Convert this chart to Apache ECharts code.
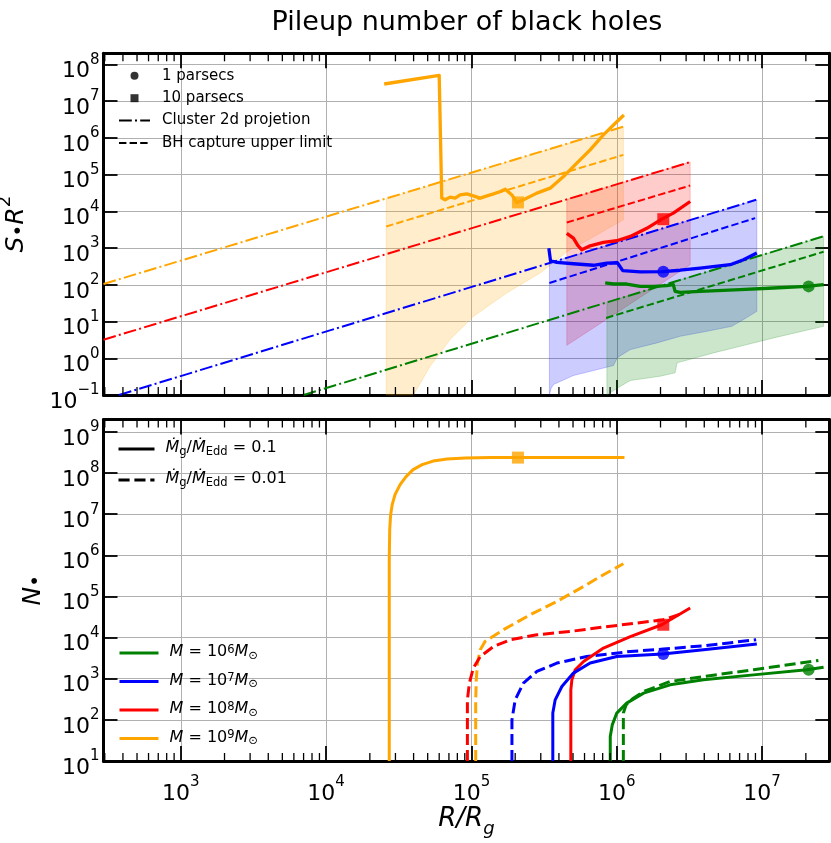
<!DOCTYPE html>
<html><head><meta charset="utf-8">
<script src="https://cdn.jsdelivr.net/npm/echarts@6/dist/echarts.min.js"></script>
<style>html,body{margin:0;padding:0;background:#fff}#c{width:831px;height:843px}</style>
</head><body><div id="c"></div>
<script>
// ---------- axis limits ----------
const X_MIN = 294, X_MAX = 2.9e7;
const TOP_Y_MIN = 0.1, TOP_Y_MAX = 2e8;
const BOT_Y_MIN = 10, BOT_Y_MAX = 2e9;
// minor x tick positions (log axis, 2..9 x 10^n)
const xMinorTicks = [300, 400, 500, 600, 700, 800, 900,
  2e3, 3e3, 4e3, 5e3, 6e3, 7e3, 8e3, 9e3,
  2e4, 3e4, 4e4, 5e4, 6e4, 7e4, 8e4, 9e4,
  2e5, 3e5, 4e5, 5e5, 6e5, 7e5, 8e5, 9e5,
  2e6, 3e6, 4e6, 5e6, 6e6, 7e6, 8e6, 9e6,
  2e7];

// ---------- top panel: S.R^2 ----------
// cluster 2d projection (dash-dot)
const orangeDashDot = [[294, 105], [1.11e6, 2.01e6]];
const redDashDot    = [[294, 3.2], [3.2e6, 2.19e5]];
const blueDashDot   = [[376, 0.1], [9.1e6, 2.06e4]];
const greenDashDot  = [[7.0e3, 0.1], [2.62e7, 2.07e3]];
// BH capture upper limit (dashed)
const orangeDashed = [[2.59e4, 3.86e3], [1.11e6, 3.43e5]];
const redDashed    = [[4.53e5, 4.97e3], [3.2e6, 5.02e4]];
const blueDashed   = [[3.44e5, 112], [8.95e6, 6.53e3]];
const greenDashed  = [[8.45e5, 12.5], [2.65e7, 792]];
// shaded ranges: upper and lower edges
const orangeBandTop = [[2.59e4, 2.15e4], [1.11e6, 2.01e6]];
const orangeBandBottom = [[2.59e4, 0.1], [3.99e4, 0.1], [5.2e4, 0.607], [7.13e4, 3.22], [1.03e5, 13.8], [1.75e5, 59.8], [2.97e5, 209], [4.58e5, 809], [1.11e6, 5.87e3]];
const redBandTop = [[4.53e5, 2.1e4], [3.2e6, 2.19e5]];
const redBandBottom = [[4.53e5, 2.25], [3.2e6, 352]];
const blueBandTop = [[3.44e5, 391], [9.2e6, 2.06e4]];
const blueBandBottom = [[3.44e5, 0.1], [3.53e5, 0.15], [3.67e5, 0.193], [5.03e5, 0.339], [6.92e5, 0.463], [9.49e5, 0.634], [1.01e6, 1.04], [1.24e6, 1.72], [1.89e6, 2.62], [2.73e6, 3.96], [4.17e6, 5.42], [6.19e6, 7.41], [7.45e6, 11.3], [9.2e6, 18.9]];
const greenBandTop = [[8.55e5, 33.3], [2.65e7, 2.07e3]];
const greenBandBottom = [[8.55e5, 0.1], [1.0e6, 0.15], [1.24e6, 0.248], [1.99e6, 0.324], [2.52e6, 0.401], [2.6e6, 0.75], [4.63e6, 1.4], [7.08e6, 2.12], [1.2e7, 3.58], [2.65e7, 7.41]];
// S.R^2 profiles (solid)
const orangeSR = [[2.51e4, 2.92e7], [6.0e4, 5.02e7], [6.25e4, 2.29e4], [6.59e4, 2.06e4], [7.13e4, 2.43e4], [7.72e4, 2.29e4], [8.36e4, 2.8e4], [9.29e4, 2.99e4], [1.03e5, 2.64e4], [1.15e5, 2.29e4], [1.28e5, 2.64e4], [1.42e5, 2.99e4], [1.58e5, 3.45e4], [1.71e5, 4.0e4], [1.9e5, 2.8e4], [2.05e5, 1.73e4], [2.28e5, 2.06e4], [2.82e5, 3.13e4], [3.48e5, 4.27e4], [4.3e5, 8.83e4], [5.31e5, 2.04e5], [6.56e5, 4.69e5], [8.09e5, 1.2e6], [9.49e5, 2.24e6], [1.12e6, 4.19e6]];
const redSR = [[4.53e5, 2.52e3], [5.03e5, 1.87e3], [5.42e5, 1.15e3], [5.75e5, 899], [6.56e5, 1.15e3], [8.09e5, 1.42e3], [1.0e6, 1.58e3], [1.24e6, 2.07e3], [1.61e6, 3.45e3], [2.04e6, 6.14e3], [2.45e6, 8.93e3], [3.2e6, 1.85e4]];
const blueSR = [[3.41e5, 988], [3.5e5, 452], [3.87e5, 406], [5.03e5, 374], [6.92e5, 340], [8.55e5, 391], [1.01e6, 398], [1.1e6, 242], [1.45e6, 224], [2.07e6, 227], [2.73e6, 249], [3.75e6, 286], [6.03e6, 352], [7.45e6, 481], [9.2e6, 731]];
const greenSR = [[8.32e5, 112], [9.49e5, 105], [1.17e6, 105], [1.45e6, 90.5], [1.79e6, 90.5], [2.21e6, 94.6], [2.45e6, 101], [2.52e6, 66.2], [2.73e6, 62.2], [3.75e6, 66.2], [7.08e6, 73.6], [1.2e7, 81.8], [2.03e7, 90.5], [2.65e7, 101]];
// markers: 1 pc (circle), 10 pc (square)
const orangeSquareTop = [[2.09e5, 1.75e4]];
const redSquareTop = [[2.09e6, 6.1e3]];
const blueCircleTop = [[2.09e6, 227]];
const greenCircleTop = [[2.09e7, 90.5]];

// ---------- bottom panel: N ----------
const orangeN01 = [[2.72e4, 10], [2.72e4, 7.82e5], [2.74e4, 4.2e6], [2.78e4, 9.73e6], [2.85e4, 1.7e7], [2.98e4, 2.98e7], [3.23e4, 5.22e7], [3.55e4, 8.18e7], [3.97e4, 1.21e8], [4.58e4, 1.6e8], [5.45e4, 1.95e8], [6.81e4, 2.2e8], [9.06e4, 2.33e8], [1.35e5, 2.37e8], [1.13e6, 2.37e8]];
const orangeN001 = [[1.07e5, 10], [1.07e5, 307], [1.08e5, 940], [1.1e5, 2.4e3], [1.15e5, 5.05e3], [1.24e5, 8.04e3], [1.66e5, 1.55e4], [2.54e5, 3.59e4], [3.87e5, 7.55e4], [5.91e5, 1.75e5], [8.1e5, 3.37e5], [1.11e6, 6.25e5]];
const redN01 = [[4.83e5, 10], [4.83e5, 537], [4.91e5, 940], [5.18e5, 1.65e3], [5.91e5, 2.62e3], [8.1e5, 5.56e3], [1.24e6, 1.06e4], [2.04e6, 2.05e4], [3.2e6, 5.22e4]];
const redN001 = [[9.38e4, 10], [9.38e4, 307], [9.68e4, 782], [1.03e5, 1.81e3], [1.15e5, 3.47e3], [1.42e5, 6.07e3], [1.85e5, 8.85e3], [2.82e5, 1.17e4], [4.78e5, 1.41e4], [8.1e5, 1.8e4], [1.37e6, 2.25e4], [2.09e6, 2.71e4], [2.86e6, 3.9e4]];
const blueN01 = [[3.63e5, 10], [3.63e5, 146], [3.77e5, 307], [4.19e5, 646], [5.03e5, 1.37e3], [6.56e5, 2.4e3], [1.0e6, 3.47e3], [2.07e6, 3.97e3], [3.95e6, 5.05e3], [9.2e6, 6.95e3]];
const blueN001 = [[1.9e5, 10], [1.9e5, 100], [2.0e5, 307], [2.28e5, 782], [2.82e5, 1.5e3], [3.87e5, 2.4e3], [6.22e5, 3.47e3], [1.24e6, 4.59e3], [2.09e6, 5.25e3], [3.95e6, 6.31e3], [9.1e6, 8.85e3]];
const greenN01 = [[9.02e5, 10], [9.02e5, 39.3], [9.31e5, 75.5], [1.0e6, 146], [1.17e6, 255], [1.53e6, 447], [2.33e6, 711], [3.95e6, 940], [8.73e6, 1.24e3], [2.03e7, 1.65e3], [2.65e7, 1.91e3]];
const greenN001 = [[1.11e6, 10], [1.11e6, 146], [1.16e6, 232], [1.3e6, 337], [1.53e6, 489], [2.33e6, 855], [3.95e6, 1.13e3], [8.73e6, 1.65e3], [2.44e7, 2.77e3]];
const orangeSquareBot = [[2.09e5, 2.37e8]];
const redSquareBot = [[2.09e6, 2.05e4]];
const blueCircleBot = [[2.09e6, 3.97e3]];
const greenCircleBot = [[2.09e7, 1.65e3]];

// ---------- labels ----------
const titleText = 'Pileup number of black holes';
const topLegendNames = ['1 parsecs', '10 parsecs', 'Cluster 2d projetion', 'BH capture upper limit'];
const mdotLegend = {mdot01: '0.1', mdot001: '0.01'};
const massLegend = {M6: '6', M7: '7', M8: '8', M9: '9'};

// ---------- styles ----------
const FONT = 'DejaVu Sans';
const COL = {orange: '#FFA500', red: '#FF0000', blue: '#0000FF', green: '#008000'};
const FILL = {orange: 'rgba(255,165,0,0.2)', red: 'rgba(255,0,0,0.2)', blue: 'rgba(0,0,255,0.2)', green: 'rgba(0,128,0,0.2)'};
const DASHDOT = [12.8, 3.2, 2, 3.2];
const DASH2 = [7.4, 3.2];
const DASH3 = [11.1, 4.8];

function expLabel(v) {
  const e = Math.round(Math.log10(v));
  return '{b|10}{s|' + (e < 0 ? '\u2212' + (-e) : e) + '}';
}
const tickRich = {
  b: {fontFamily: FONT, fontSize: 22, color: '#000', lineHeight: 30, verticalAlign: 'bottom'},
  s: {fontFamily: FONT, fontSize: 15, color: '#000', lineHeight: 13, verticalAlign: 'top'}
};

function mkX(gi, pos, labels) {
  const a = {
    type: 'log', logBase: 10, gridIndex: gi, position: pos, min: X_MIN, max: X_MAX,
    axisLine: {show: true, onZero: false, lineStyle: {color: '#000', width: 3}},
    axisTick: {show: true, inside: true, length: 15, lineStyle: {color: '#000', width: 1.8}},
    minorTick: {show: false},
    axisLabel: {show: false},
    splitLine: {show: pos === 'bottom', lineStyle: {color: '#b0b0b0', width: 1}}
  };
  if (labels) {
    a.axisLabel = {show: true, margin: 14, showMinLabel: false, showMaxLabel: false, formatter: expLabel, rich: tickRich};
    a.name = '{i|R/R}{g|g}';
    a.nameLocation = 'middle';
    a.nameGap = 40;
    a.nameTextStyle = {rich: {
      i: {fontFamily: FONT, fontStyle: 'italic', fontSize: 26, color: '#000', lineHeight: 32, verticalAlign: 'top'},
      g: {fontFamily: FONT, fontStyle: 'italic', fontSize: 18, color: '#000', lineHeight: 24, verticalAlign: 'bottom'}
    }};
  }
  return a;
}
function mkY(gi, pos, labels, mn, mx, name, gap) {
  const a = {
    type: 'log', logBase: 10, gridIndex: gi, position: pos, min: mn, max: mx,
    axisLine: {show: true, onZero: false, lineStyle: {color: '#000', width: 3}},
    axisTick: {show: true, inside: true, length: 14, lineStyle: {color: '#000', width: 1.8}},
    minorTick: {show: false},
    axisLabel: {show: false},
    splitLine: {show: pos === 'left', lineStyle: {color: '#b0b0b0', width: 1}}
  };
  if (labels) {
    a.axisLabel = {show: true, margin: 4, showMinLabel: true, showMaxLabel: false, formatter: expLabel, rich: tickRich, padding: [6, 0, 0, 0]};
    a.name = name;
    a.nameLocation = 'middle';
    a.nameGap = gap;
    a.nameRotate = 90;
    a.nameTextStyle = {rich: {
      i: {fontFamily: FONT, fontStyle: 'italic', fontSize: 25, color: '#000', lineHeight: 32, verticalAlign: 'bottom'},
      d: {fontFamily: FONT, fontSize: 20, color: '#000', lineHeight: 32, verticalAlign: 'bottom'},
      ds: {fontFamily: FONT, fontSize: 20, color: '#000', lineHeight: 22, verticalAlign: 'bottom'},
      s: {fontFamily: FONT, fontSize: 18, color: '#000', lineHeight: 16, verticalAlign: 'top'}
    }};
  }
  return a;
}

function line(data, color, width, type, xi, yi, name) {
  return {type: 'line', name: name, data: data, xAxisIndex: xi, yAxisIndex: yi, symbol: 'none', showSymbol: false,
    clip: true, silent: true, z: 3,
    lineStyle: {color: color, width: width, type: type, cap: 'butt', join: 'round'}, itemStyle: {color: color}};
}
function band(top, bottom, color, xi, yi) {
  return {type: 'custom', xAxisIndex: xi, yAxisIndex: yi, silent: true, z: 1, data: [top[0]],
    renderItem: function (params, api) {
      const pts = [];
      for (let i = 0; i < top.length; i++) pts.push(api.coord(top[i]));
      for (let i = bottom.length - 1; i >= 0; i--) pts.push(api.coord(bottom[i]));
      return {type: 'polygon', shape: {points: pts}, style: {fill: color, stroke: color, lineWidth: 1}};
    }};
}
function marker(data, color, symbol, xi, yi) {
  return {type: 'scatter', data: data, xAxisIndex: xi, yAxisIndex: yi, symbol: symbol, symbolSize: 12, silent: true, z: 4,
    itemStyle: {color: color}};
}
// minor ticks on the bottom and top edges of a panel, placed by the log x axis
function minorTicks(xi, yi, yRef) {
  return {type: 'custom', xAxisIndex: xi, yAxisIndex: yi, silent: true, z: 5,
    data: xMinorTicks.map(function (v) { return [v, yRef]; }),
    renderItem: function (params, api) {
      const px = api.coord([api.value(0), yRef])[0];
      const cs = params.coordSys;
      const st = {stroke: '#000', lineWidth: 1.3};
      return {type: 'group', children: [
        {type: 'line', shape: {x1: px, y1: cs.y + cs.height, x2: px, y2: cs.y + cs.height - 8}, style: st},
        {type: 'line', shape: {x1: px, y1: cs.y, x2: px, y2: cs.y + 8}, style: st}
      ]};
    }};
}

const series = [
  band(orangeBandTop, orangeBandBottom, FILL.orange, 0, 0),
  band(redBandTop, redBandBottom, FILL.red, 0, 0),
  band(blueBandTop, blueBandBottom, FILL.blue, 0, 0),
  band(greenBandTop, greenBandBottom, FILL.green, 0, 0),
  line(orangeDashDot, COL.orange, 2, DASHDOT, 0, 0), line(redDashDot, COL.red, 2, DASHDOT, 0, 0),
  line(blueDashDot, COL.blue, 2, DASHDOT, 0, 0), line(greenDashDot, COL.green, 2, DASHDOT, 0, 0),
  line(orangeDashed, COL.orange, 2, DASH2, 0, 0), line(redDashed, COL.red, 2, DASH2, 0, 0),
  line(blueDashed, COL.blue, 2, DASH2, 0, 0), line(greenDashed, COL.green, 2, DASH2, 0, 0),
  line(orangeSR, COL.orange, 3.3, 'solid', 0, 0), line(redSR, COL.red, 3.3, 'solid', 0, 0),
  line(blueSR, COL.blue, 3.3, 'solid', 0, 0), line(greenSR, COL.green, 3.3, 'solid', 0, 0),
  marker(orangeSquareTop, COL.orange, 'rect', 0, 0), marker(redSquareTop, COL.red, 'rect', 0, 0),
  marker(blueCircleTop, COL.blue, 'circle', 0, 0), marker(greenCircleTop, COL.green, 'circle', 0, 0),
  // bottom
  line(orangeN001, COL.orange, 3, DASH3, 2, 2), line(redN001, COL.red, 3, DASH3, 2, 2),
  line(blueN001, COL.blue, 3, DASH3, 2, 2), line(greenN001, COL.green, 3, DASH3, 2, 2),
  line(orangeN01, COL.orange, 3, 'solid', 2, 2), line(redN01, COL.red, 3, 'solid', 2, 2),
  line(blueN01, COL.blue, 3, 'solid', 2, 2), line(greenN01, COL.green, 3, 'solid', 2, 2),
  marker(orangeSquareBot, COL.orange, 'rect', 2, 2), marker(redSquareBot, COL.red, 'rect', 2, 2),
  marker(blueCircleBot, COL.blue, 'circle', 2, 2), marker(greenCircleBot, COL.green, 'circle', 2, 2),
  minorTicks(0, 0, TOP_Y_MIN), minorTicks(2, 2, BOT_Y_MIN),
  // legend-only entries
  {type: 'scatter', name: topLegendNames[0], data: [], xAxisIndex: 0, yAxisIndex: 0, itemStyle: {color: '#000'}},
  {type: 'scatter', name: topLegendNames[1], data: [], xAxisIndex: 0, yAxisIndex: 0, itemStyle: {color: '#000'}},
  line([], '#000', 2, DASHDOT, 0, 0, topLegendNames[2]),
  line([], '#000', 2, DASH2, 0, 0, topLegendNames[3]),
  line([], '#000', 3, 'solid', 2, 2, 'mdot01'),
  line([], '#000', 3, DASH3, 2, 2, 'mdot001'),
  line([], COL.green, 3, 'solid', 2, 2, 'M6'),
  line([], COL.blue, 3, 'solid', 2, 2, 'M7'),
  line([], COL.red, 3, 'solid', 2, 2, 'M8'),
  line([], COL.orange, 3, 'solid', 2, 2, 'M9')
];

const hide = {opacity: 0};
const legRich = {
  i: {fontFamily: FONT, fontStyle: 'italic', fontSize: 16, color: '#000', lineHeight: 18, verticalAlign: 'top'},
  t: {fontFamily: FONT, fontSize: 16, color: '#000', lineHeight: 18, verticalAlign: 'top'},
  sub: {fontFamily: FONT, fontSize: 11.5, color: '#000', lineHeight: 12, verticalAlign: 'bottom'},
  sup: {fontFamily: FONT, fontSize: 11.5, color: '#000', lineHeight: 12, verticalAlign: 'top'}
};

const option = {
  animation: false,
  backgroundColor: '#ffffff',
  textStyle: {fontFamily: FONT},
  graphic: [{type: 'text', x: 467, y: 9, silent: true,
    style: {text: titleText, fontFamily: FONT, fontSize: 27, fill: '#000', align: 'center', verticalAlign: 'top'}}],
  grid: [
    {left: 103.5, right: 1.7, top: 53.3, height: 341.7, containLabel: false, outerBoundsMode: 'none'},
    {left: 103.5, right: 1.7, top: 419.5, height: 341.5, containLabel: false, outerBoundsMode: 'none'}
  ],
  xAxis: [mkX(0, 'bottom', false), mkX(0, 'top', false), mkX(1, 'bottom', true), mkX(1, 'top', false)],
  yAxis: [
    mkY(0, 'left', true, TOP_Y_MIN, TOP_Y_MAX, '{i|S}{d|\u2022}{i|R}{s|2}', 75),
    mkY(0, 'right', false, TOP_Y_MIN, TOP_Y_MAX),
    mkY(1, 'left', true, BOT_Y_MIN, BOT_Y_MAX, '{i|N}{ds|\u2022}', 58),
    mkY(1, 'right', false, BOT_Y_MIN, BOT_Y_MAX)
  ],
  legend: [
    {orient: 'vertical', left: 118, top: 68.3, padding: 0, itemGap: 7.4, itemWidth: 31, itemHeight: 8, selectedMode: false,
      data: [{name: topLegendNames[0], icon: 'circle'}, {name: topLegendNames[1], icon: 'path://M0 0H10V10H0Z'},
             {name: topLegendNames[2], itemStyle: hide}, {name: topLegendNames[3], itemStyle: hide}],
      textStyle: {fontFamily: FONT, fontSize: 15, color: '#000', padding: [0, 0, 0, 7]},
      lineStyle: {width: 2}},
    {orient: 'vertical', left: 117, top: 440, padding: 0, itemGap: 13, itemWidth: 36, itemHeight: 10, selectedMode: false,
      data: [{name: 'mdot01', itemStyle: hide}, {name: 'mdot001', itemStyle: hide}],
      formatter: function (n) { return '{i|\u1E40}{sub|g}{t|/}{i|\u1E40}{sub|Edd}{t| = ' + mdotLegend[n] + '}'; },
      textStyle: {padding: [0, 0, 0, 6], rich: legRich},
      lineStyle: {width: 3}},
    {orient: 'vertical', left: 118, top: 644, padding: 0, itemGap: 10.5, itemWidth: 39, itemHeight: 10, selectedMode: false,
      data: [{name: 'M6', itemStyle: hide}, {name: 'M7', itemStyle: hide}, {name: 'M8', itemStyle: hide}, {name: 'M9', itemStyle: hide}],
      formatter: function (n) { return '{i|M}{t| = 10}{sup|' + massLegend[n] + '}{i|M}{sub|\u2299}'; },
      textStyle: {padding: [0, 0, 0, 6], rich: legRich},
      lineStyle: {width: 3}}
  ],
  series: series
};

const chart = echarts.init(document.getElementById('c'), null, {renderer: 'canvas'});
chart.setOption(option);
</script>
</body></html>
